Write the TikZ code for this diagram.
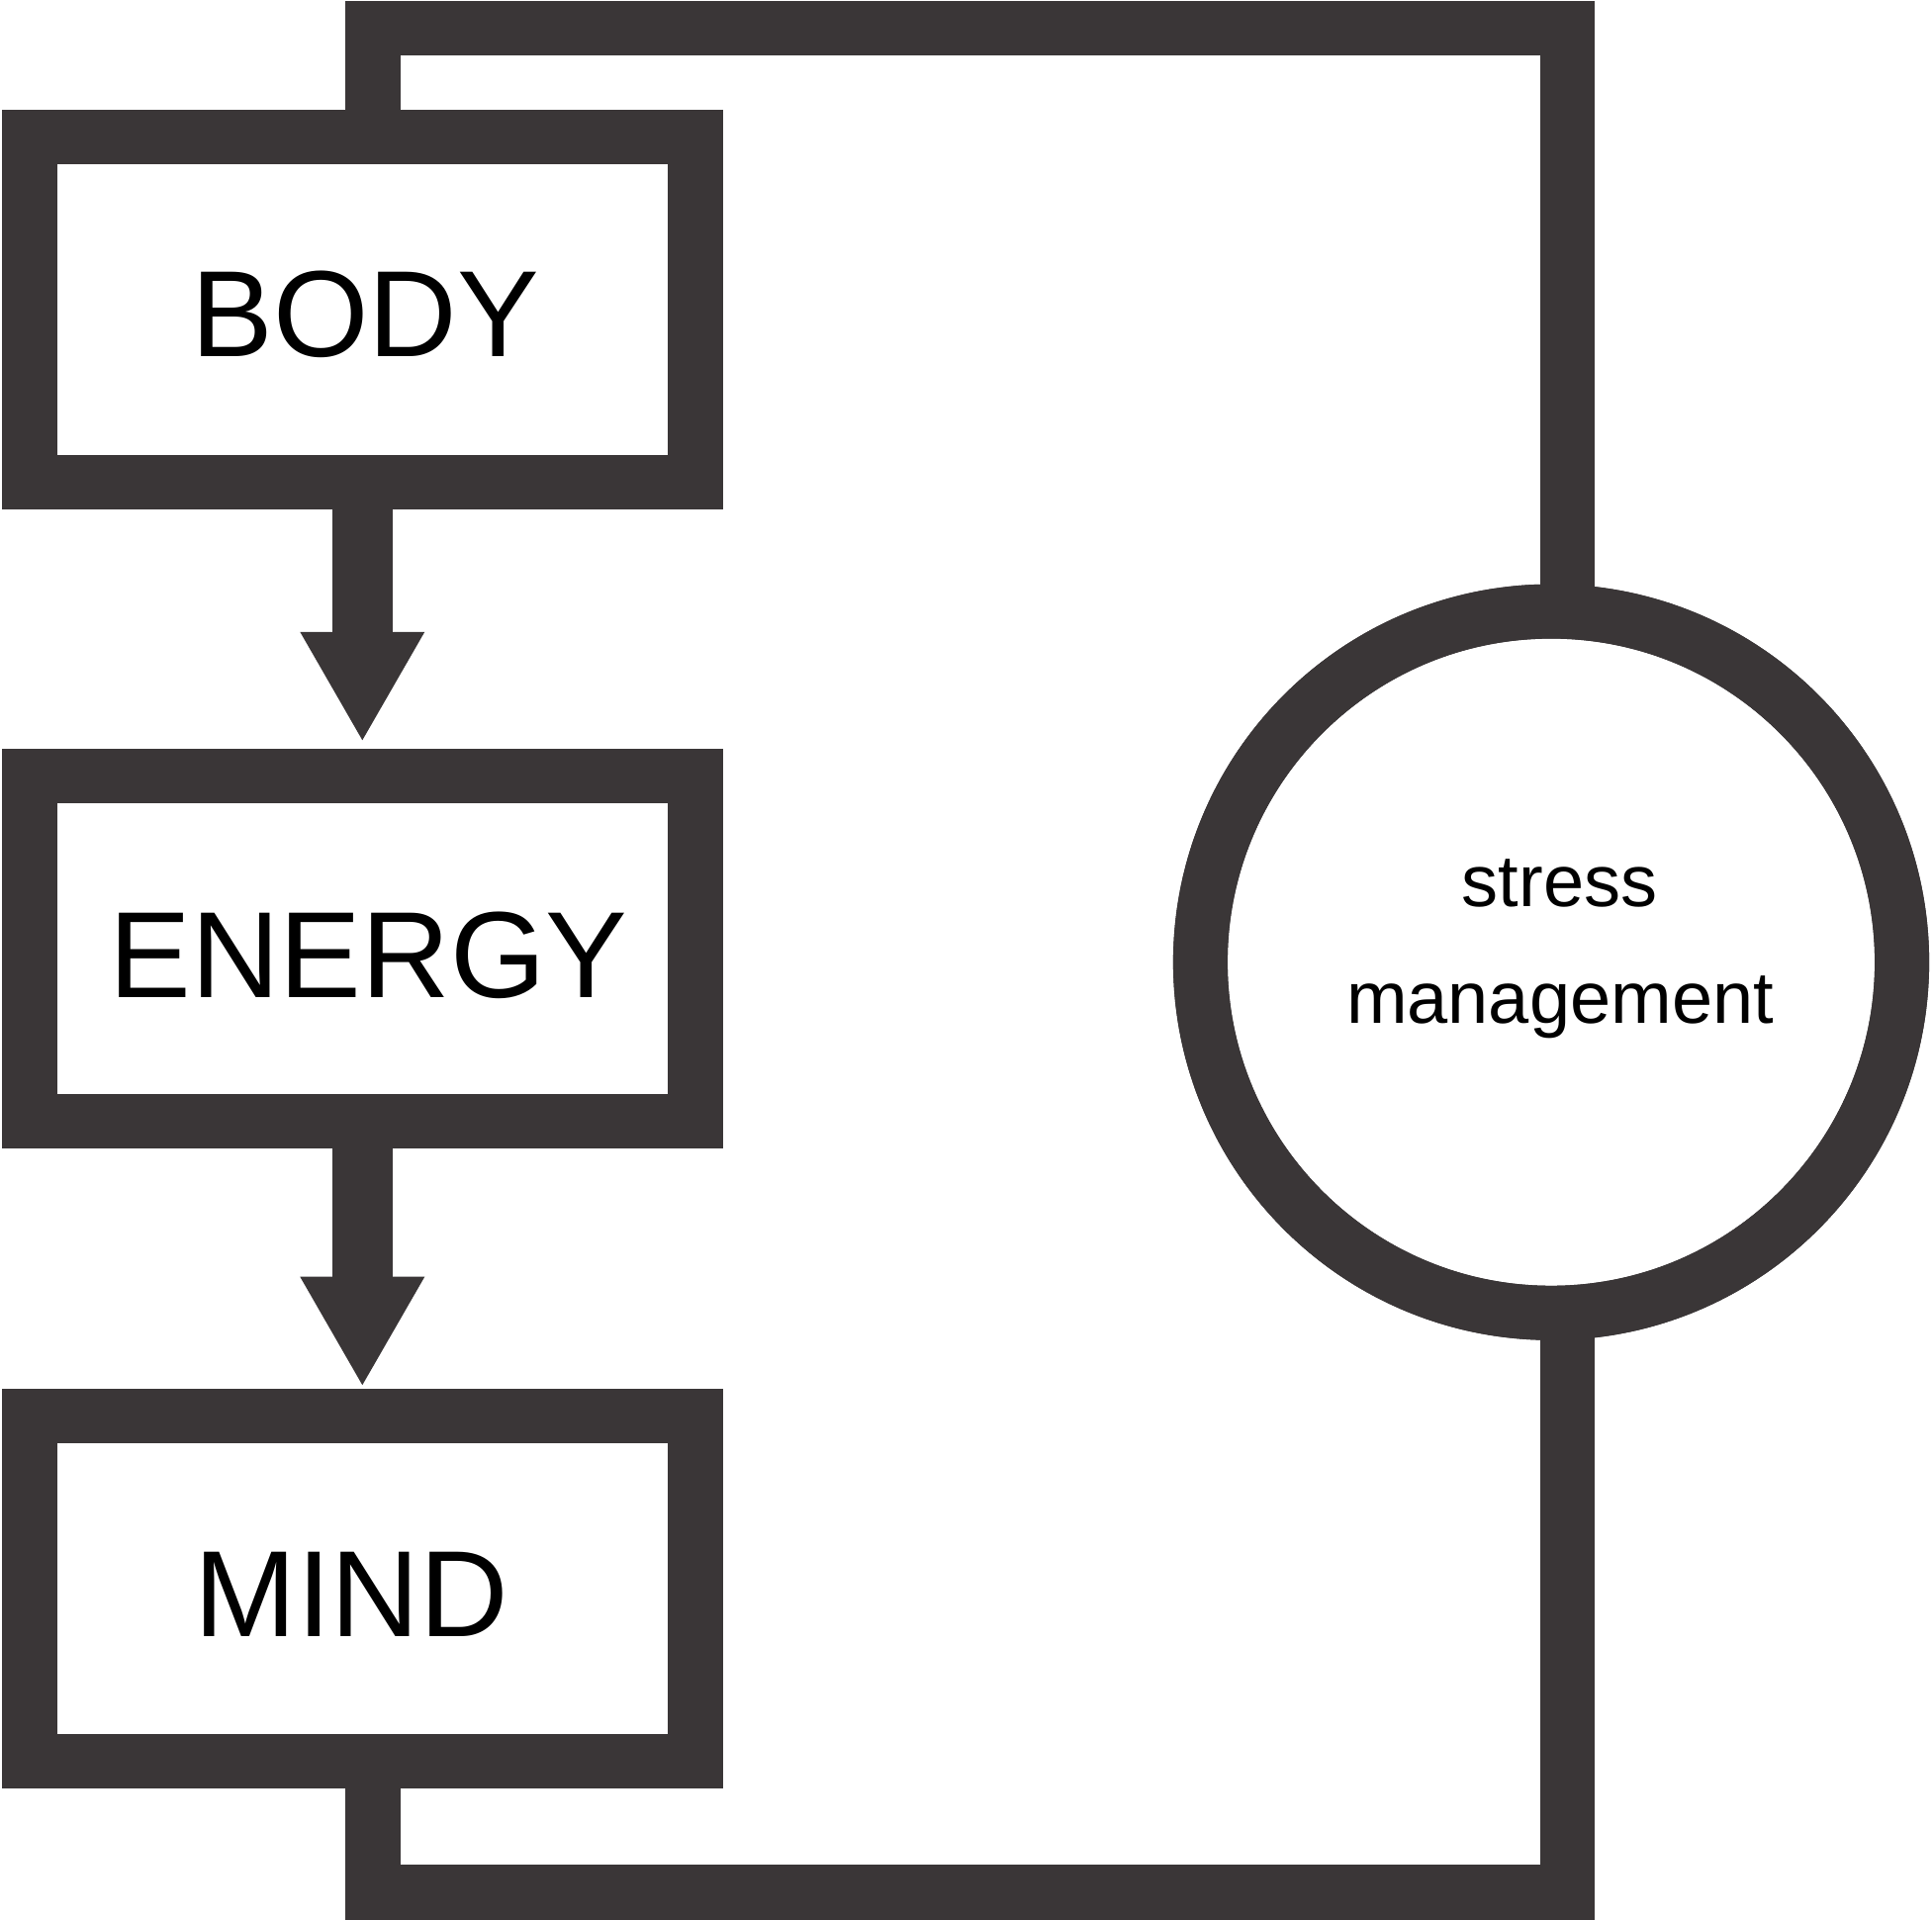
\documentclass[tikz,border=0pt]{standalone}
\usepackage{fontspec}
\setmainfont{Liberation Sans}
\usetikzlibrary{arrows.meta}
\definecolor{ink}{HTML}{3A3637}
\begin{document}
\begin{tikzpicture}[x=0.5pt,y=-0.5pt,
  framebox/.style={draw=ink, line width=27.75pt, minimum width=336.55pt, minimum height=174.6pt, inner sep=0pt, outer sep=0pt, line join=miter},
  ring/.style={circle, draw=ink, line width=27.5pt, minimum size=354.6pt, inner sep=0pt, outer sep=0pt},
  bigtext/.style={anchor=base, inner sep=0pt, text=black, font=\fontsize{62pt}{70pt}\selectfont},
  smalltext/.style={anchor=base, inner sep=0pt, text=black, font=\fontsize{37pt}{44pt}\selectfont},
  loopline/.style={draw=ink, line width=27.75pt, line join=miter},
  flowarrow/.style={draw=ink, line width=30.25pt, -{Triangle[width=63pt,length=54.75pt,line width=0pt]}}
]
\useasboundingbox (0,0) rectangle (1953,1941);

% boxes and circle
\node[framebox] (body) at (366.3,313.1) {};
\node[framebox] (energy) at (366.3,959.1) {};
\node[framebox] (mind) at (366.3,1606.0) {};
\node[ring] (sm) at (1568,972.7) {};

% labels
\node[bigtext] (bodylabel) at (369.4,361) {BODY};
\node[bigtext] (energylabel) at (372.4,1008) {ENERGY};
\node[bigtext] (mindlabel) at (355.4,1654) {MIND};
\node[smalltext] (stresslabel) at (1576.5,916) {stress};
\node[smalltext] (mgmtlabel) at (1577,1034.5) {management};

% loop connectors
\coordinate (tl) at (376.8,28.7);
\coordinate (tr) at (1584.3,28.7);
\coordinate (bl) at (376.8,1913.2);
\coordinate (br) at (1584.3,1913.2);
\draw[loopline] (body.north -| tl) -- (tl) -- (tr) -- (tr |- sm.north);
\draw[loopline] (mind.south -| bl) -- (bl) -- (br) -- (br |- sm.south);
\node[ring] at (sm.center) {};

% flow arrows
\draw[flowarrow, shorten >=18.1pt] (body.south) -- (energy.north);
\draw[flowarrow, shorten >=15.6pt] (energy.south) -- (mind.north);
\end{tikzpicture}
\end{document}
